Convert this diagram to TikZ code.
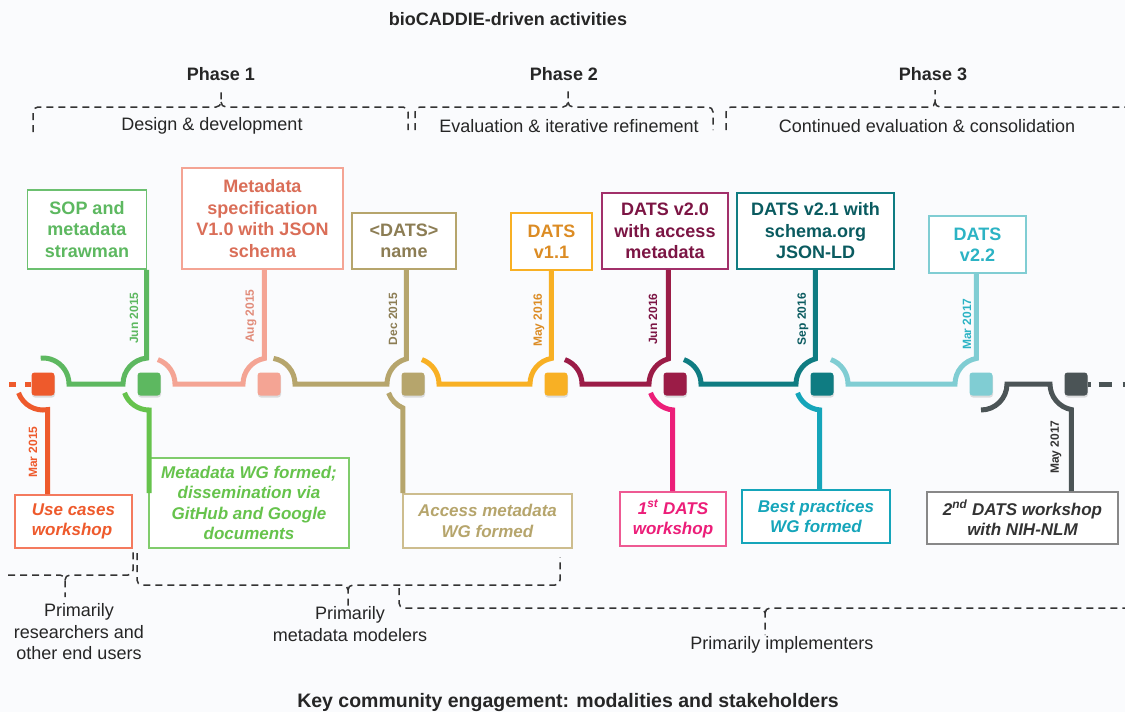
\documentclass[tikz,border=0pt]{standalone}
\usepackage{fontspec}
\setmainfont{Liberation Sans}
\usetikzlibrary{calc,shadows}

\definecolor{bgcol}{HTML}{FAFBFD}
\definecolor{bracegray}{HTML}{333333}
\definecolor{cred}{HTML}{EE5A2C}
\definecolor{credb}{HTML}{F47A5E}
\definecolor{cgreen}{HTML}{5DB860}
\definecolor{cgreenb}{HTML}{6CC070}
\definecolor{clgreen}{HTML}{66C34C}
\definecolor{clgreenb}{HTML}{80CC6C}
\definecolor{csalmon}{HTML}{F4A494}
\definecolor{csalmont}{HTML}{DA6E58}
\definecolor{colive}{HTML}{B6A56C}
\definecolor{colivet}{HTML}{8C7D54}
\definecolor{coliveb}{HTML}{CDBD8E}
\definecolor{cyellow}{HTML}{F8B024}
\definecolor{cyellowt}{HTML}{DC8C24}
\definecolor{cmaroon}{HTML}{9B1C47}
\definecolor{cmaroont}{HTML}{7C1544}
\definecolor{cmaroonb}{HTML}{A2306A}
\definecolor{cpink}{HTML}{EC1E79}
\definecolor{cpinkb}{HTML}{EE5A93}
\definecolor{cteal}{HTML}{0F7C82}
\definecolor{ctealt}{HTML}{0A5B60}
\definecolor{cbteal}{HTML}{15A5BA}
\definecolor{ccyan}{HTML}{80CDD3}
\definecolor{ccyant}{HTML}{2CB3C4}
\definecolor{cgrey}{HTML}{4B5456}
\definecolor{cgreyb}{HTML}{888888}

\begin{document}
\begin{tikzpicture}[x=1pt,y=1pt,
  seg/.style={draw=#1, line width=5pt},
  evt/.style={rectangle, rounded corners=3pt, minimum size=23pt, inner sep=0pt, fill=#1,
    drop shadow={shadow xshift=0.5pt, shadow yshift=-2pt, opacity=0.25}},
  ubox/.style={draw, fill=white, line width=1.6pt, align=center, inner sep=2pt,
    font=\fontsize{18}{21.5}\selectfont\bfseries},
  lbox/.style={draw, fill=white, line width=1.6pt, align=center, inner sep=2pt,
    font=\fontsize{17}{20.5}\selectfont\bfseries\itshape},
  dlabel/.style={rotate=90, inner sep=0pt, font=\fontsize{12}{12}\selectfont\bfseries},
  brace/.style={draw=bracegray, line width=1.5pt, dash pattern=on 7pt off 5pt},
  grp/.style={align=center, text=black!85, font=\fontsize{18}{21.5}\selectfont},
  hdr/.style={text=black!85, font=\fontsize{18}{20}\selectfont\bfseries}]

  \fill[bgcol] (0,0) rectangle (1125,-712);
  \useasboundingbox (0,0) rectangle (1125,-712);

  % headings and phases
  \node[hdr] (top) at (508,-19) {bioCADDIE-driven activities};
  \node[hdr, font=\fontsize{19.5}{22}\selectfont\bfseries] (bottom) at (568,-702) {Key community engagement: modalities and stakeholders};
  \node[hdr] (ph1) at (221,-74) {Phase 1};
  \node[hdr] (ph2) at (564,-74) {Phase 2};
  \node[hdr] (ph3) at (933,-74) {Phase 3};
  \node[grp] (des) at (212,-126) {Design \& development};
  \node[grp] (eval) at (569,-126) {Evaluation \& iterative refinement};
  \node[grp] (cont) at (927,-126) {Continued evaluation \& consolidation};

  \draw[brace] (33,-132) -- (33,-112) to[out=90,in=180] (38,-107) -- (216,-107) to[out=0,in=-90] (221,-102) -- (221,-90);
  \draw[brace] (221,-102) to[out=-90,in=180] (226,-107) -- (403,-107) to[out=0,in=90] (408,-112) -- (408,-130);
  \draw[brace] (415,-130) -- (415,-112) to[out=90,in=180] (420,-107) -- (563,-107) to[out=0,in=-90] (568,-102) -- (568,-90);
  \draw[brace] (568,-102) to[out=-90,in=180] (573,-107) -- (708,-107) to[out=0,in=90] (713,-112) -- (713,-130);
  \draw[brace] (726,-130) -- (726,-112) to[out=90,in=180] (731,-107) -- (930,-107) to[out=0,in=-90] (935,-102) -- (935,-90);
  \draw[brace] (935,-102) to[out=-90,in=180] (940,-107) -- (1125,-107);

  % timeline events
  \node[evt=cred] (n1) at (43,-384) {};
  \node[evt=cgreen] (n2) at (149,-384) {};
  \node[evt=csalmon] (n3) at (269,-384) {};
  \node[evt=colive] (n4) at (413,-384) {};
  \node[evt=cyellow] (n5) at (556,-384) {};
  \node[evt=cmaroon] (n6) at (675,-384) {};
  \node[evt=cteal] (n7) at (822,-384) {};
  \node[evt=ccyan] (n8) at (981,-384) {};
  \node[evt=cgrey] (n9) at (1076,-384) {};

  % products (above)
  \node[ubox, draw=cgreenb, text=cgreen, minimum width=119pt, minimum height=79pt] (sop) at (87,-229.5) {SOP and\\metadata\\strawman};
  \node[ubox, draw=csalmon, text=csalmont, minimum width=161pt, minimum height=101pt] (spec) at (262.5,-218.5) {Metadata\\specification\\V1.0 with JSON\\schema};
  \node[ubox, draw=colive, text=colivet, minimum width=104pt, minimum height=56pt] (name) at (404,-241) {<DATS>\\name};
  \node[ubox, draw=cyellow, text=cyellowt, minimum width=81pt, minimum height=57pt] (v11) at (551.5,-241.5) {DATS\\v1.1};
  \node[ubox, draw=cmaroonb, text=cmaroont, minimum width=126pt, minimum height=76pt] (v20) at (665,-231) {DATS v2.0\\with access\\metadata};
  \node[ubox, draw=cteal, text=ctealt, minimum width=157pt, minimum height=76pt] (v21) at (815.5,-231) {DATS v2.1 with\\schema.org\\JSON-LD};
  \node[ubox, draw=ccyan, text=ccyant, minimum width=97pt, minimum height=57pt] (v22) at (977.5,-244.5) {DATS\\v2.2};

  % community events (below)
  \node[lbox, draw=credb, text=cred, align=left, minimum width=117pt, minimum height=53pt] (usecase) at (73.5,-521.5) {Use cases\\workshop};
  \node[lbox, draw=clgreenb, text=clgreen, minimum width=200pt, minimum height=90pt] (wg) at (249,-503) {Metadata WG formed;\\dissemination via\\GitHub and Google\\documents};
  \node[lbox, draw=coliveb, text=colive, minimum width=169pt, minimum height=54pt] (access) at (487.5,-521) {Access metadata\\WG formed};
  \node[lbox, draw=cpinkb, text=cpink, minimum width=106pt, minimum height=54pt] (first) at (673,-519) {1\textsuperscript{st} DATS\\workshop};
  \node[lbox, draw=cbteal, text=cbteal, minimum width=148pt, minimum height=53pt] (best) at (816,-516.5) {Best practices\\WG formed};
  \node[lbox, draw=cgreyb, text=black!80, minimum width=191pt, minimum height=52pt] (second) at (1022.5,-518) {2\textsuperscript{nd} DATS workshop\\with NIH-NLM};

  % timeline segments
  \draw[cred, line width=5pt, dash pattern=on 7pt off 9pt on 7pt] (9,-384) -- (n1.west);
  \draw[seg=cgreen] ($(n1.center)+(95:26)$) arc[start angle=95,end angle=0,radius=26] -- ($(n2.center)+(180:26)$) arc[start angle=180,end angle=95,radius=26] coordinate (s2) -- (s2 |- sop.south);
  \draw[seg=csalmon] ($(n2.center)+(70:26)$) arc[start angle=70,end angle=0,radius=26] -- ($(n3.center)+(180:26)$) arc[start angle=180,end angle=100,radius=26] coordinate (s3) -- (s3 |- spec.south);
  \draw[seg=colive] ($(n3.center)+(80:26)$) arc[start angle=80,end angle=0,radius=26] -- ($(n4.center)+(180:26)$) arc[start angle=180,end angle=105,radius=26] coordinate (s4) -- (s4 |- name.south);
  \draw[seg=cyellow] ($(n4.center)+(70:26)$) arc[start angle=70,end angle=0,radius=26] -- ($(n5.center)+(180:26)$) arc[start angle=180,end angle=100,radius=26] coordinate (s5) -- (s5 |- v11.south);
  \draw[seg=cmaroon] ($(n5.center)+(70:26)$) arc[start angle=70,end angle=0,radius=26] -- ($(n6.center)+(180:26)$) arc[start angle=180,end angle=105,radius=26] coordinate (s6) -- (s6 |- v20.south);
  \draw[seg=cteal] ($(n6.center)+(70:26)$) arc[start angle=70,end angle=0,radius=26] -- ($(n7.center)+(180:26)$) arc[start angle=180,end angle=105,radius=26] coordinate (s7) -- (s7 |- v21.south);
  \draw[seg=ccyan] ($(n7.center)+(70:26)$) arc[start angle=70,end angle=0,radius=26] -- ($(n8.center)+(180:26)$) arc[start angle=180,end angle=100,radius=26] coordinate (s8) -- (s8 |- v22.south);
  \draw[seg=cgrey] ($(n8.center)+(270:26)$) arc[start angle=270,end angle=360,radius=26] -- ($(n9.center)+(180:26)$) arc[start angle=180,end angle=260,radius=26] coordinate (s9) -- (s9 |- second.north);
  \draw[cgrey, line width=5pt, dash pattern=on 3pt off 8pt on 13pt off 11pt] (n9.east) -- (1125,-384);

  % stems down to community events
  \draw[seg=cred] ($(n1.center)+(200:26)$) arc[start angle=200,end angle=280,radius=26] coordinate (l1) -- (l1 |- usecase.north);
  \draw[seg=clgreen] ($(n2.center)+(200:26)$) arc[start angle=200,end angle=270,radius=26] coordinate (l2) -- ($(l2 |- wg.north)+(0,-36)$);
  \draw[seg=colive] ($(n4.center)+(200:26)$) arc[start angle=200,end angle=247,radius=26] coordinate (l4) -- (l4 |- access.north);
  \draw[seg=cpink] ($(n6.center)+(200:26)$) arc[start angle=200,end angle=265,radius=26] coordinate (l6) -- (l6 |- first.north);
  \draw[seg=cbteal] ($(n7.center)+(200:26)$) arc[start angle=200,end angle=265,radius=26] coordinate (l7) -- (l7 |- best.north);

  % dates
  \node[dlabel, text=cgreen] (d2) at (134,-318) {Jun 2015};
  \node[dlabel, text=csalmont!80] (d3) at (251,-316) {Aug 2015};
  \node[dlabel, text=colivet] (d4) at (393,-319) {Dec 2015};
  \node[dlabel, text=cyellowt] (d5) at (539,-320) {May 2016};
  \node[dlabel, text=cmaroont] (d6) at (653,-319) {Jun 2016};
  \node[dlabel, text=ctealt] (d7) at (803,-319) {Sep 2016};
  \node[dlabel, text=ccyant] (d8) at (967,-324) {Mar 2017};
  \node[dlabel, text=cred] (d1) at (33,-452) {Mar 2015};
  \node[dlabel, text=black!80] (d9) at (1056,-447) {May 2017};

  % stakeholders
  \draw[brace] (8,-575) -- (60,-575) to[out=0,in=90] (65,-580) -- (65,-597);
  \draw[brace] (65,-580) to[out=90,in=180] (70,-575) -- (128,-575) to[out=0,in=-90] (133,-570) -- (133,-552);
  \draw[brace] (137,-553) -- (137,-580) to[out=-90,in=180] (142,-585) -- (343,-585) to[out=0,in=90] (348,-590) -- (348,-607);
  \draw[brace] (348,-590) to[out=90,in=180] (353,-585) -- (555,-585) to[out=0,in=-90] (560,-580) -- (560,-557);
  \draw[brace] (399,-588) -- (399,-603) to[out=-90,in=180] (404,-608) -- (760,-608) to[out=0,in=90] (765,-613) -- (765,-635);
  \draw[brace] (765,-613) to[out=90,in=180] (770,-608) -- (1125,-608);

  \node[grp] (res) at (79,-632) {Primarily\\researchers and\\other end users};
  \node[grp] (mod) at (350,-624) {Primarily\\metadata modelers};
  \node[grp] (imp) at (782,-645) {Primarily implementers};
\end{tikzpicture}
\end{document}
